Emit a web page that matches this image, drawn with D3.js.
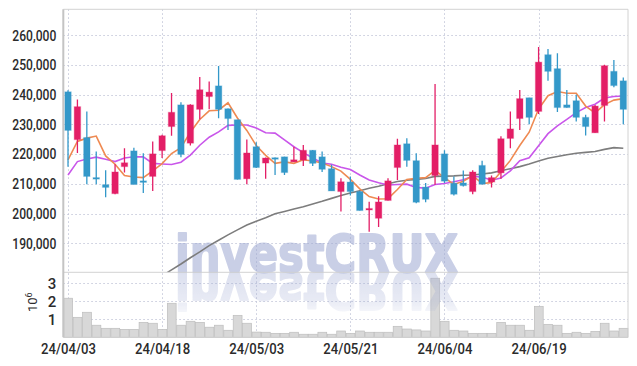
<!DOCTYPE html>
<html>
<head>
<meta charset="utf-8">
<script src="https://cdn.jsdelivr.net/npm/d3@7"></script>
<style>
  body { margin: 0; background: #fff; }
  svg { display: block; }
  .lbl { font-family: Roboto, "Liberation Sans", sans-serif; font-weight: 500; fill: #2b2b2b; }
</style>
</head>
<body>
<div id="chart"></div>
<script>
// Daily candles 24/04/03 .. 24/07/02, prices in thousands of won, volume in millions

const dates = ["24/04/03","24/04/04","24/04/05","24/04/08","24/04/09","24/04/11","24/04/12","24/04/15","24/04/16","24/04/17",
  "24/04/18","24/04/19","24/04/22","24/04/23","24/04/24","24/04/25","24/04/26","24/04/29","24/04/30","24/05/02",
  "24/05/03","24/05/07","24/05/08","24/05/09","24/05/10","24/05/13","24/05/14","24/05/16","24/05/17","24/05/20",
  "24/05/21","24/05/22","24/05/23","24/05/24","24/05/27","24/05/28","24/05/29","24/05/30","24/05/31","24/06/03",
  "24/06/04","24/06/05","24/06/07","24/06/10","24/06/11","24/06/12","24/06/13","24/06/14","24/06/17","24/06/18",
  "24/06/19","24/06/20","24/06/21","24/06/24","24/06/25","24/06/26","24/06/27","24/06/28","24/07/01","24/07/02"];

const opens = [241.0,224.9,225.6,212.1,209.7,206.7,215.8,221.1,211.0,212.5,
  221.2,229.3,236.6,223.7,235.1,239.4,243.0,235.3,231.6,211.7,
  222.5,217.0,218.8,219.1,217.4,218.0,221.3,219.1,215.1,207.4,
  210.6,207.4,201.4,198.4,204.4,215.5,223.5,217.8,208.9,212.8,
  220.1,210.2,210.3,207.4,216.2,210.6,213.7,225.3,232.0,239.0,
  234.4,253.5,248.8,236.6,238.0,232.4,227.2,236.4,247.9,244.7];
const highs = [241.5,238.4,234.4,220.9,214.6,216.6,222.0,222.2,220.3,224.3,
  226.5,240.6,237.5,236.8,246.0,244.5,249.7,235.4,231.6,224.9,
  224.0,218.9,218.9,219.1,222.5,223.1,221.4,220.9,216.4,211.9,
  212.5,207.6,204.0,205.8,211.9,225.2,225.4,220.3,210.3,243.6,
  221.3,212.5,214.5,214.6,217.8,212.8,226.0,234.4,241.6,239.0,
  256.1,255.4,254.0,241.6,240.0,233.3,236.6,250.1,251.7,245.8];
const lows = [215.8,220.4,209.9,209.9,205.5,206.5,213.8,209.8,206.9,207.6,
  218.7,226.2,219.0,222.9,231.8,235.1,232.1,228.1,211.5,209.9,
  215.3,211.7,213.0,213.0,217.4,216.0,216.0,214.0,207.6,200.7,
  206.1,201.0,193.9,195.5,204.4,211.3,215.8,203.5,203.8,209.7,
  210.3,206.1,209.1,206.5,209.7,208.8,211.7,222.0,228.1,230.1,
  233.5,244.7,234.2,235.6,231.0,226.3,227.2,231.0,242.5,230.1];
const closes = [228.0,236.0,212.5,211.8,208.8,214.0,217.1,209.8,210.8,220.1,
  226.2,234.1,219.9,236.6,241.7,240.9,235.1,232.0,211.5,220.4,
  215.5,218.7,218.6,213.8,218.1,221.3,216.9,214.9,207.6,210.7,
  207.4,201.0,201.7,203.9,211.0,223.1,217.9,203.8,204.8,223.1,
  210.9,206.5,209.4,214.0,209.9,212.1,225.2,228.5,238.7,232.4,
  251.0,247.9,235.7,235.7,232.4,229.3,236.2,249.8,243.1,235.1];
const volumes = [2.17,1.11,1.39,0.67,0.50,0.50,0.44,0.44,0.83,0.78,
  0.44,1.89,0.67,0.89,0.83,0.56,0.67,0.39,1.22,0.78,
  0.29,0.28,0.22,0.22,0.28,0.17,0.17,0.28,0.17,0.35,
  0.22,0.35,0.28,0.28,0.28,0.61,0.46,0.41,0.35,3.28,
  0.89,0.39,0.35,0.22,0.22,0.22,0.83,0.67,0.67,0.39,
  1.72,0.72,0.67,0.22,0.28,0.22,0.33,0.78,0.35,0.50];

// moving averages as drawn
const ma5 = [218.1,224.3,225.4,226.1,219.4,216.6,212.8,212.3,212.1,214.4,
  216.8,220.2,222.2,227.4,231.7,234.6,234.8,237.3,232.2,228.0,
  222.9,219.6,216.9,217.4,216.9,218.1,217.7,217.0,215.8,214.3,
  211.5,208.3,205.7,204.9,205.0,208.1,211.5,211.9,212.1,214.5,
  212.1,209.8,210.9,212.8,210.1,210.4,214.1,217.9,222.9,227.4,
  235.2,239.7,241.1,240.5,240.5,236.2,233.9,236.7,238.2,238.7];
const ma10 = [213.0,217.5,218.4,219.0,218.3,217.5,218.7,219.1,219.1,216.9,
  216.7,216.5,217.3,219.7,223.0,225.7,227.5,229.7,229.8,229.8,
  228.8,227.2,227.1,224.8,222.5,220.5,218.7,217.0,216.6,215.6,
  214.8,213.0,211.3,210.4,209.6,209.8,209.9,208.8,208.5,209.8,
  210.1,210.7,211.4,212.5,212.3,211.2,212.0,214.4,217.8,218.8,
  222.8,226.9,229.5,231.7,234.0,235.7,236.8,238.9,239.4,239.6];
const maLong = [null,null,null,null,null,null,null,null,null,null,
  179.0,181.0,183.0,185.1,187.1,189.2,191.0,192.8,194.5,196.1,
  197.4,198.6,199.9,200.7,201.5,202.3,203.2,204.1,205.1,206.1,
  206.9,207.7,208.5,209.2,210.0,210.8,211.2,211.5,211.8,212.5,
  212.6,212.7,212.9,213.0,213.3,213.7,214.4,215.1,215.8,216.7,
  217.7,218.6,219.2,219.8,220.3,220.6,220.9,221.6,222.2,222.0];

const priceTicks = [190, 200, 210, 220, 230, 240, 250, 260];
const volTicks = [1, 2, 3];
const dateTicks = ["24/04/03","24/04/18","24/05/03","24/05/21","24/06/04","24/06/19"];

const W = 637, H = 366;
const pL = 63.3, pR = 628, pT = 9.3, pMid = 272.3, pB = 337.3;
const upCol = "#e31e66", downCol = "#3398c9";
const gridCol = "#c6c9db";

const svg = d3.select("#chart").append("svg").attr("width", W).attr("height", H);

const idx = d3.range(dates.length);
const x = d3.scaleBand().domain(idx).range([pL, pR]);
const bw = x.bandwidth();
const cx = i => x(i) + bw / 2;
const y = d3.scaleLinear().domain([180.2, 268.8]).range([pMid, pT]);
const yv = d3.scaleLinear().domain([0, 3.61]).range([pB, pMid]);

const defs = svg.append("defs");
defs.append("clipPath").attr("id", "mainClip")
  .append("rect").attr("x", pL).attr("y", pT).attr("width", pR - pL).attr("height", pMid - pT);

// reflection mask: visible at the top of the volume panel, fading out downward
const grad = defs.append("linearGradient").attr("id", "fade")
  .attr("gradientUnits", "userSpaceOnUse")
  .attr("x1", 0).attr("y1", pMid).attr("x2", 0).attr("y2", pMid + 50);
grad.append("stop").attr("offset", "0%").attr("stop-color", "#fff");
grad.append("stop").attr("offset", "55%").attr("stop-color", "#aaa");
grad.append("stop").attr("offset", "100%").attr("stop-color", "#000");
defs.append("mask").attr("id", "reflMask").attr("maskUnits", "userSpaceOnUse")
  .attr("x", pL).attr("y", pMid).attr("width", pR - pL).attr("height", pB - pMid)
  .append("rect").attr("x", pL).attr("y", pMid).attr("width", pR - pL).attr("height", pB - pMid)
  .attr("fill", "url(#fade)");

// grid
const grid = svg.append("g").attr("stroke", gridCol).attr("stroke-width", 1).attr("stroke-dasharray", "1.5,2.5");
grid.selectAll(".hg").data(priceTicks).join("line")
  .attr("x1", pL).attr("x2", pR).attr("y1", d => Math.round(y(d)) + 0.5).attr("y2", d => Math.round(y(d)) + 0.5);
grid.selectAll(".vg").data(volTicks).join("line")
  .attr("x1", pL).attr("x2", pR).attr("y1", d => Math.round(yv(d)) + 0.5).attr("y2", d => Math.round(yv(d)) + 0.5);
grid.selectAll(".xg").data(dateTicks).join("line")
  .attr("x1", d => Math.round(cx(dates.indexOf(d))) + 0.5).attr("x2", d => Math.round(cx(dates.indexOf(d))) + 0.5)
  .attr("y1", pT).attr("y2", pB);

// volume bars
svg.append("g").selectAll("rect").data(volumes).join("rect")
  .attr("x", (d, i) => x(i) + 0.5)
  .attr("width", bw - 0.6)
  .attr("y", d => yv(d))
  .attr("height", d => pB - yv(d))
  .attr("fill", "#d8d8d8")
  .attr("stroke", "#bdbdbd")
  .attr("stroke-width", 0.7);

// watermark + reflection
const wmText = (g, op) => g.append("text").attr("x", 175).attr("y", pMid)
  .attr("textLength", 283).attr("lengthAdjust", "spacingAndGlyphs")
  .style("font-family", "'DejaVu Sans', sans-serif").style("font-weight", "bold").style("font-size", "52px")
  .attr("fill", "#9ea8d2").attr("stroke", "#9ea8d2").attr("stroke-width", 2)
  .attr("stroke-linejoin", "round")
  .attr("opacity", op).text("investCRUX");
wmText(svg.append("g"), 0.55);
const refl = svg.append("g").attr("mask", "url(#reflMask)");
wmText(refl.append("g").attr("transform", `translate(0 ${2 * pMid}) scale(1 -1)`), 0.36);

// moving averages
const plot = svg.append("g").attr("clip-path", "url(#mainClip)");
const line = d3.line().defined(d => d != null).x((d, i) => cx(i)).y(d => y(d));
plot.append("path").datum(maLong).attr("d", line).attr("fill", "none").attr("stroke", "#7d7d7d").attr("stroke-width", 1.6);
plot.append("path").datum(ma10).attr("d", line).attr("fill", "none").attr("stroke", "#c956ea").attr("stroke-width", 1.6);
plot.append("path").datum(ma5).attr("d", line).attr("fill", "none").attr("stroke", "#ef8a52").attr("stroke-width", 1.6);

// candles
const candles = plot.selectAll(".candle").data(idx).join("g");
const colOf = i => closes[i] >= opens[i] ? upCol : downCol;
candles.append("line")
  .attr("x1", i => cx(i)).attr("x2", i => cx(i))
  .attr("y1", i => y(highs[i])).attr("y2", i => y(lows[i]))
  .attr("stroke", colOf).attr("stroke-width", 1.3);
candles.append("rect")
  .attr("x", i => cx(i) - 3.2).attr("width", 6.4)
  .attr("y", i => y(Math.max(opens[i], closes[i])))
  .attr("height", i => Math.max(1.5, Math.abs(y(opens[i]) - y(closes[i]))))
  .attr("fill", colOf)
  .attr("stroke", colOf).attr("stroke-opacity", 0.25).attr("stroke-width", 1.2);

// frame
const frame = svg.append("g").attr("fill", "none");
frame.append("line").attr("x1", pL).attr("x2", pR).attr("y1", pT).attr("y2", pT).attr("stroke", "#d2d2d2");
frame.append("line").attr("x1", pR).attr("x2", pR).attr("y1", pT).attr("y2", pB).attr("stroke", "#d2d2d2");
frame.append("line").attr("x1", pL).attr("x2", pR).attr("y1", pMid).attr("y2", pMid).attr("stroke", "#d2d2d2");
frame.append("line").attr("x1", pL).attr("x2", pR).attr("y1", pB).attr("y2", pB).attr("stroke", "#cfcfcf");
frame.append("line").attr("x1", pL).attr("x2", pL).attr("y1", pT).attr("y2", pB).attr("stroke", "#c4c4c4").attr("stroke-width", 2);

// axes
const yAxis = svg.append("g").attr("transform", `translate(${pL} 0)`)
  .call(d3.axisLeft(y).tickValues(priceTicks).tickSize(0).tickPadding(7).tickFormat(d => d3.format(",")(d * 1000)));
const vAxis = svg.append("g").attr("transform", `translate(${pL} 0)`)
  .call(d3.axisLeft(yv).tickValues(volTicks).tickSize(0).tickPadding(7).tickFormat(d3.format("d")));
const xAxis = svg.append("g").attr("transform", `translate(0 ${pB})`)
  .call(d3.axisBottom(d3.scalePoint().domain(dates).range([cx(0), cx(dates.length - 1)]))
    .tickValues(dateTicks).tickSize(0).tickPadding(6));
[yAxis, vAxis, xAxis].forEach(a => {
  a.select(".domain").remove();
  a.selectAll("text").attr("class", "lbl").style("font-size", "15px").attr("fill", "#2b2b2b");
});
yAxis.selectAll("text").attr("textLength", 44).attr("lengthAdjust", "spacingAndGlyphs");
xAxis.selectAll("text").attr("textLength", 55).attr("lengthAdjust", "spacingAndGlyphs");

svg.append("text").attr("class", "lbl")
  .attr("transform", "translate(37 312) rotate(-90)")
  .style("font-weight", "normal").style("font-size", "13px").attr("fill", "#444")
  .html('10<tspan dy="-5" font-size="9">6</tspan>');
</script>
</body>
</html>
